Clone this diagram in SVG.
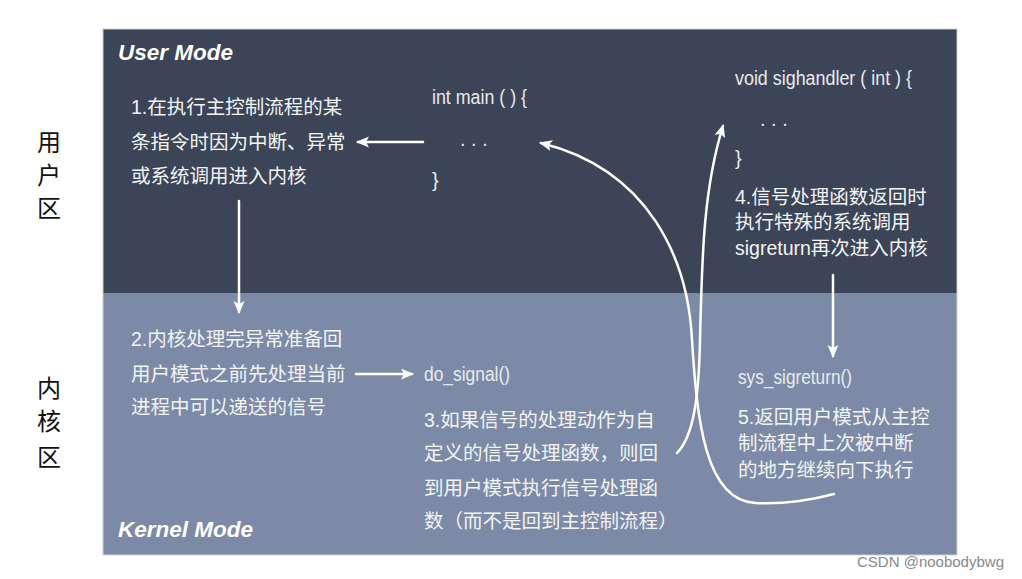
<svg xmlns="http://www.w3.org/2000/svg" width="1022" height="579" viewBox="0 0 1022 579">
<style>
.cn{font-family:"Liberation Sans","Noto Sans CJK SC",sans-serif;font-size:19.5px;fill:#f3f4f6}
.code{font-family:"Liberation Sans","Noto Sans CJK SC",sans-serif;font-size:20px;fill:#e8eaef}
.mode{font-family:"Liberation Sans",sans-serif;font-size:22.5px;font-style:italic;font-weight:bold;fill:#ffffff}
.side{font-family:"Noto Sans CJK SC",sans-serif;font-size:24px;fill:#111111;text-anchor:middle}
.ln{fill:none;stroke:#ffffff;stroke-width:2.5;stroke-linecap:round}
</style>
<defs>
<marker id="ah" markerUnits="userSpaceOnUse" markerWidth="14" markerHeight="12" refX="11" refY="5.5" orient="auto">
<path d="M0,0 L13,5.5 L0,11 L3,5.5 z" fill="#ffffff"/>
</marker>
</defs>
<rect x="0" y="0" width="1022" height="579" fill="#ffffff"/>
<g id="panels">
<rect x="103" y="29" width="854" height="264" fill="#3c4457"/>
<rect x="103" y="293" width="854" height="262" fill="#7d8aa7"/>
<rect x="103" y="29" width="854" height="526" fill="none" stroke="#cdd1d8" stroke-width="1"/>
</g>
<g id="side-labels">
<text class="side" x="49" y="151">用</text>
<text class="side" x="49" y="184">户</text>
<text class="side" x="49" y="217">区</text>
<text class="side" x="49" y="397">内</text>
<text class="side" x="49" y="430">核</text>
<text class="side" x="49" y="466">区</text>
</g>
<g id="mode-labels">
<text class="mode" x="118" y="60">User Mode</text>
<text class="mode" x="118" y="537">Kernel Mode</text>
</g>
<g id="step1">
<text class="cn" x="131" y="114">1.在执行主控制流程的某</text>
<text class="cn" x="131" y="149">条指令时因为中断、异常</text>
<text class="cn" x="131" y="183">或系统调用进入内核</text>
</g>
<g id="main">
<text class="code" x="432" y="104" textLength="95" lengthAdjust="spacingAndGlyphs">int main ( ) {</text>
<text class="code" x="460" y="146">. . .</text>
<text class="code" x="432" y="187">}</text>
</g>
<g id="sighandler">
<text class="code" x="735" y="85" textLength="177" lengthAdjust="spacingAndGlyphs">void sighandler ( int ) {</text>
<text class="code" x="760" y="126">. . .</text>
<text class="code" x="735" y="165">}</text>
</g>
<g id="step4">
<text class="cn" x="735" y="204">4.信号处理函数返回时</text>
<text class="cn" x="735" y="229">执行特殊的系统调用</text>
<text class="cn" x="735" y="255">sigreturn再次进入内核</text>
</g>
<g id="step2">
<text class="cn" x="131" y="346">2.内核处理完异常准备回</text>
<text class="cn" x="131" y="381">用户模式之前先处理当前</text>
<text class="cn" x="131" y="414">进程中可以递送的信号</text>
</g>
<g id="do_signal">
<text class="code" x="424" y="381" textLength="86" lengthAdjust="spacingAndGlyphs">do_signal()</text>
</g>
<g id="step3">
<text class="cn" x="424" y="427">3.如果信号的处理动作为自</text>
<text class="cn" x="424" y="460">定义的信号处理函数，则回</text>
<text class="cn" x="424" y="495">到用户模式执行信号处理函</text>
<text class="cn" x="424" y="528">数（而不是回到主控制流程）</text>
</g>
<g id="sys_sigreturn">
<text class="code" x="738" y="384" textLength="114" lengthAdjust="spacingAndGlyphs">sys_sigreturn()</text>
</g>
<g id="step5">
<text class="cn" x="738" y="424">5.返回用户模式从主控</text>
<text class="cn" x="738" y="450">制流程中上次被中断</text>
<text class="cn" x="738" y="477">的地方继续向下执行</text>
</g>
<g id="connectors">
<path class="ln" d="M423,142 L358,142" marker-end="url(#ah)"/>
<path class="ln" d="M239,201 L239,312" marker-end="url(#ah)"/>
<path class="ln" d="M356,374 L412,374" marker-end="url(#ah)"/>
<path class="ln" d="M833,275 L833,356" marker-end="url(#ah)"/>
<path class="ln" d="M677,453 C695,435 699,390 700,340 C702,260 703,190 723,126" marker-end="url(#ah)"/>
<path class="ln" d="M834,494 C800,503 775,504 755,503 C705,500 697,420 692,340 C688,260 650,170 541,143" marker-end="url(#ah)"/>
</g>
<g id="watermark">
<text x="857" y="567" font-family="Liberation Sans,sans-serif" font-size="15" fill="#8a8a8a">CSDN @noobodybwg</text>
</g>
</svg>
